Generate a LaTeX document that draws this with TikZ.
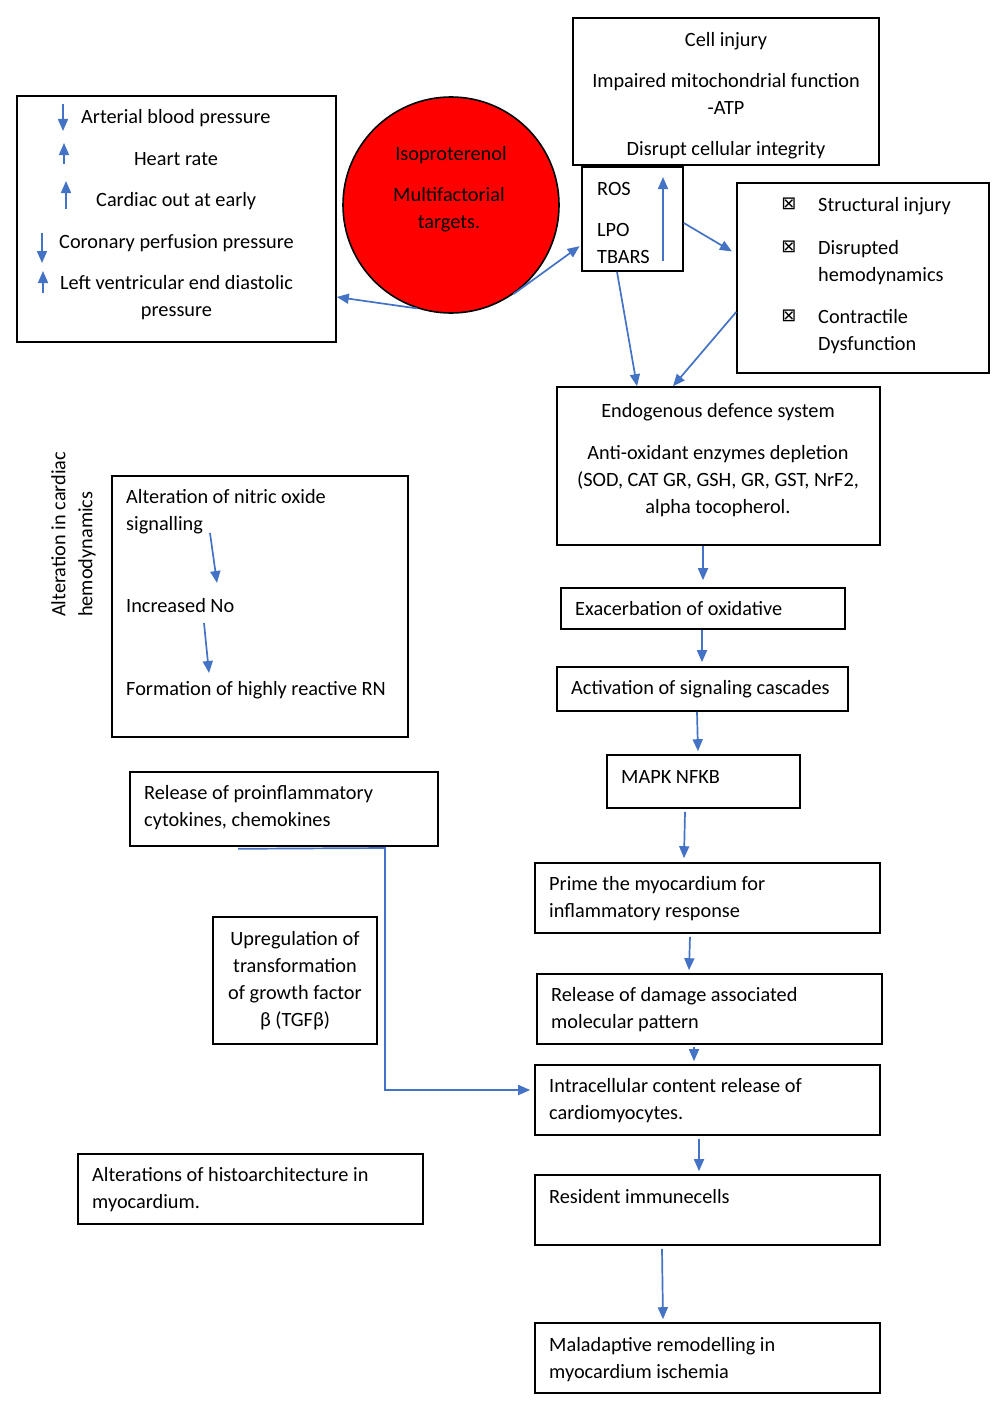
\documentclass[tikz,border=0pt]{standalone}
\usepackage{fontspec}
\setmainfont{Carlito}
\newfontfamily\dvsans{DejaVu Sans}
\usetikzlibrary{arrows.meta,calc}
\definecolor{arrblue}{HTML}{4472C4}
\begin{document}
\begin{tikzpicture}[x=1pt,y=-1pt, font=\fontsize{20.3}{27}\selectfont,
 box/.style={draw, line width=1.6pt, inner sep=0pt},
 arr/.style={draw=arrblue, line width=1.7pt, -{Triangle[length=12pt,width=10pt]}},
 txt/.style={inner sep=0pt, anchor=base west, align=left, yshift=-1.5pt},
 ctxt/.style={inner sep=0pt, anchor=base, align=center, yshift=-1.5pt},
 chk/.style={inner sep=0pt, font={\dvsans\fontsize{18}{18}\selectfont}}]
\useasboundingbox (0,0) rectangle (1000,1402);

% ---------- boxes ----------
\node[box, minimum width=319pt, minimum height=246pt] (hemo) at (176.5,219) {};
\node[draw, line width=1.6pt, circle, fill=red, minimum size=216pt, inner sep=0pt] (iso) at (451,205) {};
\node[box, minimum width=306pt, minimum height=147pt] (cell) at (726,91.5) {};
\node[box, minimum width=101pt, minimum height=104pt] (ros) at (632.5,219) {};
\node[box, minimum width=252pt, minimum height=190pt] (struct) at (863,278) {};
\node[box, minimum width=323pt, minimum height=158pt] (endo) at (718.5,466) {};
\node[box, minimum width=284pt, minimum height=41pt] (exac) at (703,608.5) {};
\node[box, minimum width=291pt, minimum height=44pt] (act) at (702.5,689) {};
\node[box, minimum width=193pt, minimum height=53pt] (mapk) at (703.5,781.5) {};
\node[box, minimum width=345pt, minimum height=70pt] (prime) at (707.5,898) {};
\node[box, minimum width=345pt, minimum height=70pt] (dam) at (709.5,1009) {};
\node[box, minimum width=345pt, minimum height=70pt] (intra) at (707.5,1100) {};
\node[box, minimum width=345pt, minimum height=70pt] (res) at (707.5,1210) {};
\node[box, minimum width=345pt, minimum height=70pt] (mal) at (707.5,1358) {};
\node[box, minimum width=296pt, minimum height=261pt] (nitric) at (260,606.5) {};
\node[box, minimum width=308pt, minimum height=74pt] (pro) at (284,809) {};
\node[box, minimum width=164pt, minimum height=127pt] (tgf) at (295,980.5) {};
\node[box, minimum width=345pt, minimum height=70pt] (histo) at (250.5,1189) {};

% ---------- texts (base = baseline of last line) ----------
\node[txt] (h1) at (81,122) {Arterial blood pressure};
\node[ctxt] (h2) at (176,164) {Heart rate};
\node[txt] (h3) at (96,205) {Cardiac out at early};
\node[txt] (h4) at (59,247) {Coronary perfusion pressure};
\node[ctxt] (h5) at (176.5,315) {Left ventricular end diastolic\\pressure};

\node[ctxt] (i1) at (451,159) {Isoproterenol};
\node[ctxt] (i2) at (449,227) {Multifactorial\\targets.};

\node[ctxt] (c1) at (726,45) {Cell injury};
\node[ctxt] (c2) at (726,113) {Impaired mitochondrial function\\-ATP};
\node[ctxt] (c3) at (726,154) {Disrupt cellular integrity};

\node[txt] (r1) at (597,194) {ROS};
\node[txt] (r2) at (597,262) {LPO\\TBARS};

\node[chk] (k1) at (789,204) {⊠};
\node[chk] (k2) at (789,247) {⊠};
\node[chk] (k3) at (789,316) {⊠};
\node[txt] (s1) at (818,210) {Structural injury};
\node[txt] (s2) at (818,280) {Disrupted\\hemodynamics};
\node[txt] (s3) at (818,349) {Contractile\\Dysfunction};

\node[ctxt] (e1) at (718,416) {Endogenous defence system};
\node[ctxt] (e2) at (718,512) {Anti-oxidant enzymes depletion\\(SOD, CAT GR, GSH, GR, GST, NrF2,\\alpha tocopherol.};

\node[txt] (t1) at (575,614) {Exacerbation of oxidative};
\node[txt] (t2) at (571,693) {Activation of signaling cascades};
\node[txt] (t3) at (621,782) {MAPK NFKB};
\node[txt] (t4) at (549,916) {Prime the myocardium for\\inflammatory response};
\node[txt] (t5) at (551,1027) {Release of damage associated\\molecular pattern};
\node[txt] (t6) at (549,1118) {Intracellular content release of\\cardiomyocytes.};
\node[txt] (t7) at (549,1202) {Resident immunecells};
\node[txt] (t8) at (549,1377) {Maladaptive remodelling in\\myocardium ischemia};

\node[inner sep=0pt, rotate=90, anchor=west, align=left] (lab) at (73.5,617) {Alteration in cardiac\\hemodynamics};
\node[txt] (n1) at (126,529) {Alteration of nitric oxide\\signalling};
\node[txt] (n2) at (126,611) {Increased No};
\node[txt] (n3) at (126,694) {Formation of highly reactive RN};

\node[txt] (p1) at (144,825) {Release of proinflammatory\\cytokines, chemokines};
\node[ctxt] (g1) at (295,1025) {Upregulation of\\transformation\\of growth factor\\β (TGFβ)};
\node[txt] (a1) at (92,1207) {Alterations of histoarchitecture in\\myocardium.};

% ---------- symbol arrows inside boxes ----------
\draw[arr] (63,104) -- (63,131);
\draw[arr] (64,164) -- (64,143);
\draw[arr] (66,209) -- (66,181);
\draw[arr] (42,233) -- (42,263);
\draw[arr] (43,293) -- (43,271);
\draw[arr] (663,261) -- (663,177);
\draw[arr] (210,533) -- (217,583);
\draw[arr] (204,623) -- (209,673);

% ---------- connectors ----------
\draw[arr] (iso.252) -- (hemo.east |- 0,297);
\draw[arr, shorten >=2pt] (iso.305) -- (ros.west |- 0,245);
\draw[arr, shorten >=5pt] (ros.east |- 0,223) -- (struct.west |- 0,254);
\draw[arr] (ros.south -| 617,0) -- (endo.north -| 637,0);
\draw[arr] (struct.west |- 0,312) -- (endo.north -| 673,0);
\draw[arr] (endo.south -| 703,0) -- ($(exac.north -| 703,0)+(0,-7)$);
\draw[arr] (exac.south -| 702,0) -- ($(act.north -| 702,0)+(0,-4)$);
\draw[arr] (act.south -| 697,0) -- ($(mapk.north -| 698,0)+(0,-3)$);
\draw[arr] ($(mapk.south -| 685,0)+(0,3)$) -- ($(prime.north -| 684,0)+(0,-4)$);
\draw[arr] ($(prime.south -| 690,0)+(0,3)$) -- ($(dam.north -| 689,0)+(0,-3)$);
\draw[arr] ($(dam.south -| 694,0)+(0,2)$) -- ($(intra.north -| 694,0)+(0,-3)$);
\draw[arr] ($(intra.south -| 699,0)+(0,3)$) -- ($(res.north -| 699,0)+(0,-3)$);
\draw[arr] ($(res.south -| 662,0)+(0,3)$) -- ($(mal.north -| 663,0)+(0,-3)$);
\draw[arr] ($(pro.south -| 238,0)+(0,2)$) -- (385,848) -- (385,1090) -- ($(intra.west |- 0,1090)+(-4,0)$);
\end{tikzpicture}
\end{document}
